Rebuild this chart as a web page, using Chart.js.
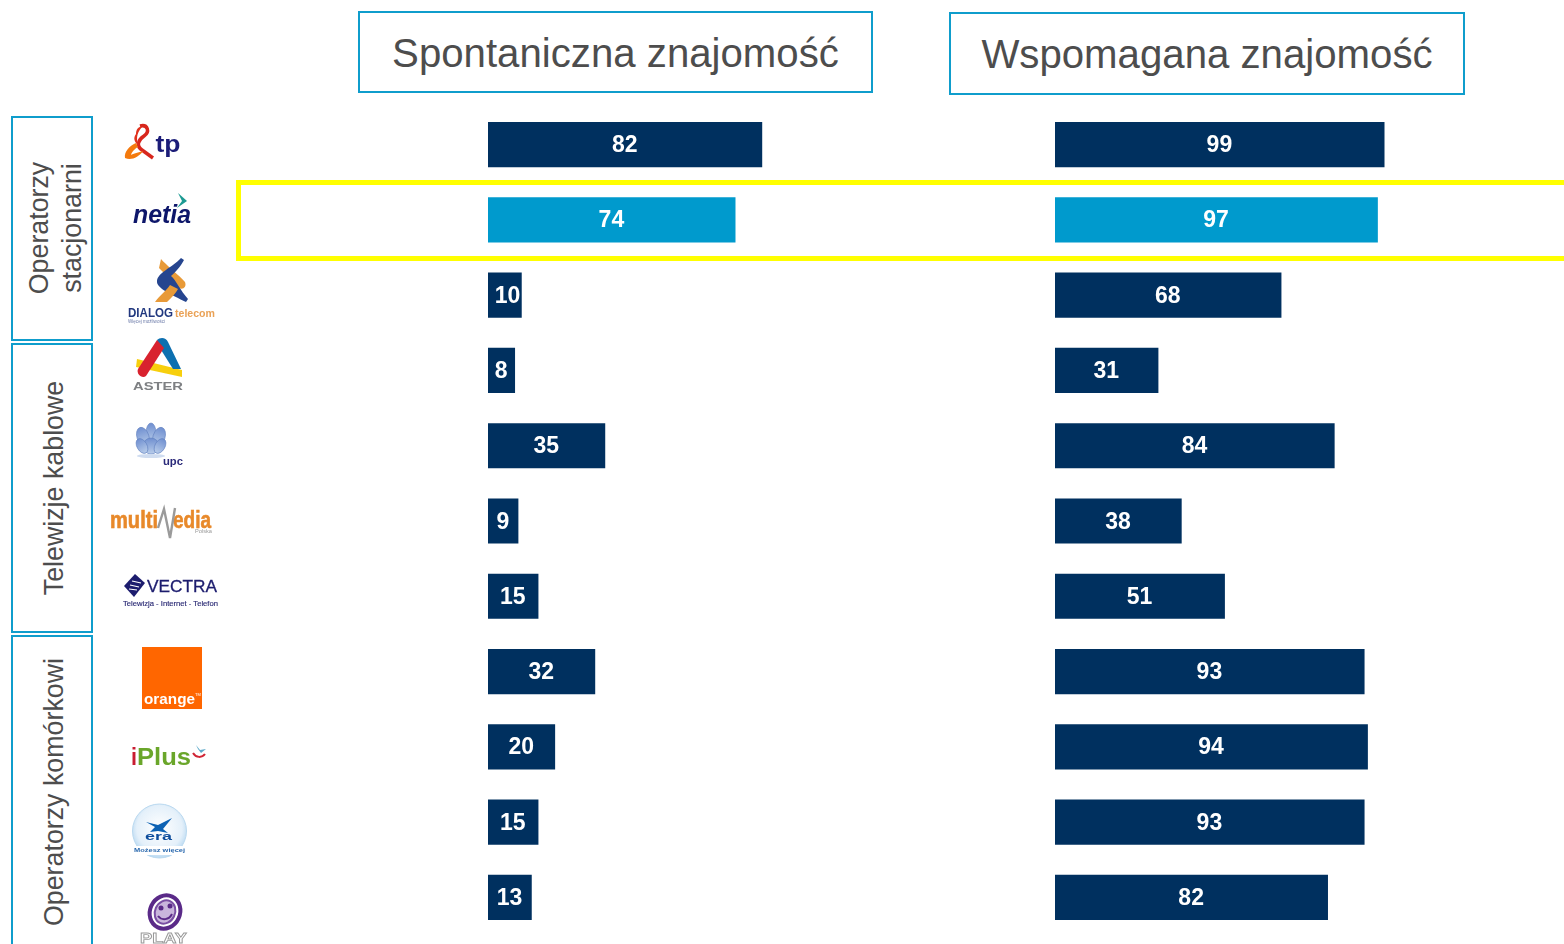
<!DOCTYPE html>
<html><head><meta charset="utf-8">
<script src="https://cdn.jsdelivr.net/npm/chart.js@4"></script>
<style>
html,body{margin:0;padding:0;background:#fff;overflow:hidden}
body{width:1564px;height:944px;position:relative;font-family:"Liberation Sans",Arial,sans-serif}
.abs{position:absolute;box-sizing:border-box}
.head{border:2px solid #0f9dcc;color:#4d4d4d;font-size:40.2px;display:flex;align-items:center;justify-content:center;white-space:nowrap;padding-top:3px}
.side{border:2px solid #0f9dcc;color:#4d4d4d;font-size:26.8px;line-height:32.5px;overflow:hidden}
.side span{position:absolute;left:50%;top:50%;transform:translate(-50%,-50%) rotate(-90deg);white-space:nowrap;text-align:center}
.hl{border:5px solid #ffff00;border-right:none}
canvas{position:absolute}
svg text{font-family:"Liberation Sans",Arial,sans-serif}
</style></head><body>
<div class="abs head" style="left:358px;top:11px;width:515px;height:82px">Spontaniczna znajomość</div>
<div class="abs head" style="left:949px;top:12px;width:516px;height:83px">Wspomagana znajomość</div>
<div class="abs side" style="left:11px;top:116px;width:82px;height:225px"><span style="left:42px;top:110px">Operatorzy<br>stacjonarni</span></div>
<div class="abs side" style="left:11px;top:343px;width:82px;height:290px"><span style="left:41px;top:143px">Telewizje kablowe</span></div>
<div class="abs side" style="left:11px;top:635px;width:82px;height:330px"><span style="left:41px;top:155px">Operatorzy komórkowi</span></div>
<div class="abs hl" style="left:236px;top:180px;width:1328px;height:81px"></div>

<svg class="abs" style="left:0;top:0" width="1564" height="944">
<defs><filter id="soft" x="-5%" y="-5%" width="110%" height="110%"><feGaussianBlur stdDeviation="0.45"/></filter>
<radialGradient id="eraG" cx=".5" cy=".45" r=".6"><stop offset="0" stop-color="#fff"/><stop offset=".7" stop-color="#e4f0fa"/><stop offset="1" stop-color="#a8d0ee"/></radialGradient>
<linearGradient id="upcG" x1="0" y1="0" x2="0" y2="1"><stop offset="0" stop-color="#6f8fd0"/><stop offset="1" stop-color="#b9cdea"/></linearGradient></defs>
<g filter="url(#soft)">
<!-- tp -->
<path d="M140 126 C148 124 150 132 144 136 C138 140 136 146 142 150 L153 158" fill="none" stroke="#d8261e" stroke-width="3.5"/>
<path d="M136 134 C136 128 140 126 142 127 C136 134 136 140 139 146 C134 142 133 138 136 134Z" fill="#e0301e"/>
<path d="M136 143 C129 146 124 152 125 158 C131 161 139 157 143 151 C139 152 133 154 131 155 C132 151 136 148 138 147Z" fill="#f47a10"/>
<text x="155.5" y="152" font-size="24" font-weight="bold" fill="#1b1f78" textLength="25" lengthAdjust="spacingAndGlyphs">tp</text>
<!-- netia -->
<path d="M178 193 L187 201 L177 208 L182 201Z" fill="#1d9a92"/>
<text x="133" y="223" font-size="25" font-weight="bold" font-style="italic" fill="#11196b" textLength="58" lengthAdjust="spacingAndGlyphs">netia</text>
<!-- Dialog -->
<path d="M161 259 C165 264 180 276 185 282 C187 287 183 290 179 288 L159 268 Z" fill="#e89a38"/>
<path d="M181 258 C172 268 158 272 157 281 C156 288 172 295 186 302 L188 299 C180 290 176 280 171 276 C178 270 182 264 184 260Z" fill="#25458f"/>
<path d="M170 285 C166 291 160 295 155 302 L167 302 C172 297 176 293 178 289Z" fill="#e89a38"/>
<text x="128" y="317" font-size="13" font-weight="bold" fill="#20397f" textLength="45" lengthAdjust="spacingAndGlyphs">DIALOG</text>
<text x="175" y="317" font-size="10.5" font-weight="bold" fill="#eaa257" textLength="40" lengthAdjust="spacingAndGlyphs">telecom</text>
<text x="128" y="323" font-size="5.5" fill="#6b7aa8" textLength="37" lengthAdjust="spacingAndGlyphs">Więcej możliwości</text>
<!-- Aster -->
<path d="M137 359 L182 370 L182 377 L136 367Z" fill="#f7cf10"/>
<path d="M157 340 C160 337 166 337 168 342 L181 369 L173 369 L158 345Z" fill="#0d6fb0"/>
<path d="M157 340 L164 348 L146 376 C142 379 136 374 138 369Z" fill="#d8202e"/>
<text x="133" y="390" font-size="11" font-weight="bold" fill="#7e8083" textLength="50" lengthAdjust="spacingAndGlyphs">ASTER</text>
<!-- UPC -->
<g fill="url(#upcG)" stroke="#5f7fc0" stroke-width=".6">
<ellipse cx="151" cy="433" rx="5" ry="10"/><ellipse cx="143" cy="437" rx="6" ry="10" transform="rotate(-18 143 437)"/><ellipse cx="159" cy="437" rx="6" ry="10" transform="rotate(18 159 437)"/><ellipse cx="151" cy="446" rx="8" ry="8"/><ellipse cx="142" cy="446" rx="5" ry="8" transform="rotate(-30 142 446)"/><ellipse cx="160" cy="446" rx="5" ry="8" transform="rotate(30 160 446)"/></g>
<ellipse cx="151" cy="456" rx="14" ry="2" fill="#cfdcf0"/>
<text x="163" y="465" font-size="11" font-weight="bold" fill="#2c2a7a" textLength="20" lengthAdjust="spacingAndGlyphs">upc</text>
<!-- Multimedia -->
<text x="110" y="528" font-size="23" font-weight="bold" stroke="#e8892a" stroke-width=".6" fill="#e8892a" textLength="48" lengthAdjust="spacingAndGlyphs">multi</text>
<text x="173" y="528" font-size="23" font-weight="bold" stroke="#e8892a" stroke-width=".6" fill="#e8892a" textLength="38" lengthAdjust="spacingAndGlyphs">edia</text>
<path d="M158 528 L164 509 L170 538 L175 508" fill="none" stroke="#9a9a9a" stroke-width="2.4"/>
<text x="195" y="533" font-size="5" fill="#999" textLength="17" lengthAdjust="spacingAndGlyphs">Polska</text>
<!-- Vectra -->
<path d="M135 574 L145 583 L134 597 L124 586Z" fill="#1c1c6e"/>
<path d="M132 581 L141 583 M130 585 L139 587 M129 589 L137 590" stroke="#fff" stroke-width="1.2"/>
<text x="147" y="592" font-size="16" fill="#1c1c6e" stroke="#1c1c6e" stroke-width=".3" textLength="70" lengthAdjust="spacingAndGlyphs">VECTRA</text>
<text x="123" y="606" font-size="7.5" fill="#2b2b75" stroke="#2b2b75" stroke-width=".15" textLength="95" lengthAdjust="spacingAndGlyphs">Telewizja - Internet - Telefon</text>
<!-- Orange -->
<rect x="142" y="647" width="60" height="62" fill="#ff6600"/>
<text x="144" y="704" font-size="15.5" font-weight="bold" fill="#fff" textLength="51" lengthAdjust="spacingAndGlyphs">orange</text>
<text x="195" y="696" font-size="4" fill="#fff">TM</text>
<!-- iPlus -->
<text x="131" y="765" font-size="23" font-weight="bold" fill="#c81e32" textLength="6" lengthAdjust="spacingAndGlyphs">i</text>
<text x="137" y="765" font-size="23" font-weight="bold" fill="#6aa62c" textLength="54" lengthAdjust="spacingAndGlyphs">Plus</text>
<path d="M196 745 L200 750 L206 749 L201 753 L198 749Z" fill="#5ba9c9"/>
<path d="M193 753 C196 758 202 758 205 754" fill="none" stroke="#d02535" stroke-width="2"/>
<!-- Era -->
<circle cx="159.5" cy="831" r="27" fill="url(#eraG)" stroke="#b9d8ef" stroke-width="1"/>
<path d="M146 822 L158 825 L172 818 L163 829 L168 833 L158 831 L150 832 L155 827Z" fill="#0d62b4"/>
<text x="145" y="840" font-size="11" font-weight="bold" fill="#0d4d9c" textLength="27" lengthAdjust="spacingAndGlyphs">era</text>
<rect x="133" y="846" width="53" height="9" fill="#fff"/>
<text x="134" y="852" font-size="6" font-weight="bold" fill="#2a69ae" textLength="51" lengthAdjust="spacingAndGlyphs">Możesz więcej</text>
<!-- Play -->
<ellipse cx="165" cy="912" rx="15" ry="17" transform="rotate(25 165 912)" fill="#fff" stroke="#5a2a88" stroke-width="4"/>
<ellipse cx="165" cy="912" rx="10" ry="12" transform="rotate(25 165 912)" fill="#c9b5dc" stroke="#7a4fa3" stroke-width="2"/>
<circle cx="161" cy="908" r="2.5" fill="#5a2a88"/><circle cx="170" cy="906" r="2.5" fill="#5a2a88"/>
<path d="M158 916 C162 921 169 920 172 914" fill="none" stroke="#5a2a88" stroke-width="2"/>
<text x="140" y="943" font-size="14" font-weight="bold" fill="#fff" stroke="#9a9a9a" stroke-width=".8" textLength="47" lengthAdjust="spacingAndGlyphs">PLAY</text>
</g></svg>

<canvas id="c1" width="700" height="828" style="left:488px;top:107px"></canvas>
<canvas id="c2" width="509" height="828" style="left:1055px;top:107px"></canvas>
<script>
const operators=['tp','netia','Dialog','Aster','UPC','Multimedia','Vectra','Orange','iPlus','Era','Play'];
const spontaneous=[82,74,10,8,35,9,15,32,20,15,13];
const aided=[99,97,68,31,84,38,51,93,94,93,82];
const navy='#00305f', cyan='#009acd';
const barColors=operators.map(o=>o==='netia'?cyan:navy);
const labels={id:'labels',afterDatasetsDraw(ch){const c=ch.ctx;c.save();c.fillStyle='#fff';c.font='bold 23px "Liberation Sans"';c.textAlign='center';c.textBaseline='middle';
 ch.getDatasetMeta(0).data.forEach((b,i)=>{const v=ch.data.datasets[0].data[i];
  const nudge=(v===10)?3:0;
  c.fillText(v,(b.base+b.x)/2-0.2+nudge,b.y+1.2)});c.restore()}};
function make(id,data,maxV){new Chart(document.getElementById(id),{type:'bar',plugins:[labels],
 data:{labels:operators,datasets:[{data,backgroundColor:barColors,barThickness:44.5,borderWidth:0}]},
 options:{indexAxis:'y',responsive:false,animation:false,layout:{padding:0},
  plugins:{legend:{display:false},tooltip:{enabled:false}},
  scales:{x:{display:false,min:0,max:maxV,grid:{display:false}},y:{display:false,grid:{display:false}}}}})}
make('c1',spontaneous,700/3.34);
make('c2',aided,509/3.325);
</script>
</body></html>
